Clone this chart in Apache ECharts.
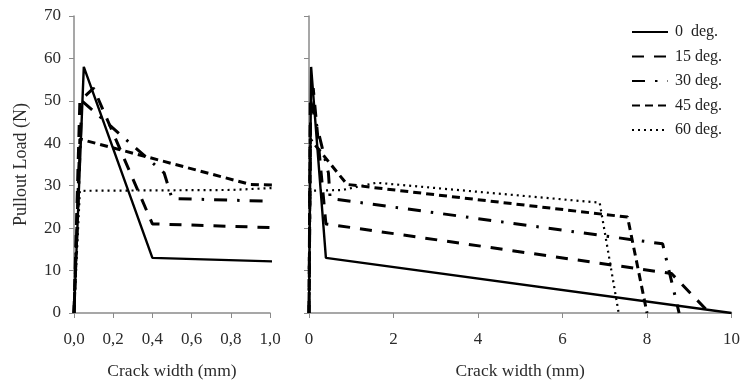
<!DOCTYPE html>
<html>
<head>
<meta charset="utf-8">
<script src="https://cdn.jsdelivr.net/npm/echarts@6/dist/echarts.min.js"></script>
<style>
  html, body { margin: 0; background: #fff; }
  #chart { width: 743px; height: 385px; }
</style>
</head>
<body>
<div id="chart"></div>
<script>
// legend names
const names = ["0  deg.", "15 deg.", "30 deg.", "45 deg.", "60 deg."];

// [crack width (mm), pullout load (N)]
const deg0 = [[0, 0], [0.05, 58], [0.4, 13], [10, 0]];
const deg15 = [[0, 0], [0.03, 50], [0.1, 53], [0.4, 21], [8.58, 9.3], [9.48, 0]];
const deg30 = [[0, 0], [0.04, 50], [0.46, 33], [0.5, 27], [8.37, 16.3], [8.76, 0]];
const deg45 = [[0, 0], [0.03, 41], [0.9, 30.3], [7.54, 22.6], [8.0, 0]];
const deg60 = [[0, 0], [0.03, 28.8], [0.8, 29], [1.6, 30.7], [6.88, 26], [7.33, 0]];

const leftTicks = [0, 0.2, 0.4, 0.6, 0.8, 1.0];
const rightTicks = [0, 2, 4, 6, 8, 10];
const loadTicks = [0, 10, 20, 30, 40, 50, 60, 70];

const font = "Liberation Serif";
const axisColor = "#8a8a8a";
const textColor = "#2b2b2b";

const lineTypes = [
  { type: "solid", width: 2.4 },
  { type: [12, 10], width: 3 },
  { type: [13, 10, 2.5, 10], width: 3 },
  { type: [8, 5], width: 3 },
  { type: [2, 4], width: 2.2 },
];
const allData = [deg0, deg15, deg30, deg45, deg60];

const series = [];
allData.forEach((d, i) => {
  [0, 1].forEach((g) => {
    series.push({
      type: "line",
      name: names[i],
      data: d,
      xAxisIndex: g,
      yAxisIndex: g,
      symbol: "none",
      clip: true,
      lineStyle: { color: "#000", cap: "butt", ...lineTypes[i] },
      itemStyle: { color: "#000" },
    });
  });
});

const xAxisBase = {
  type: "value",
  min: 0,
  splitLine: { show: false },
  axisLine: { lineStyle: { color: axisColor, width: 1.5 } },
  axisTick: { show: true, length: 5, lineStyle: { color: axisColor } },
  axisLabel: { fontFamily: font, fontSize: 17, color: textColor, margin: 18 },
  name: "Crack width (mm)",
  nameLocation: "middle",
  nameGap: 49,
  nameTextStyle: { fontFamily: font, fontSize: 17.5, color: textColor },
};

const yAxisBase = {
  type: "value",
  min: loadTicks[0],
  max: loadTicks[loadTicks.length - 1],
  interval: 10,
  splitLine: { show: false },
  axisLine: { show: true, lineStyle: { color: axisColor, width: 1.5 } },
  axisTick: { show: true, length: 5, lineStyle: { color: axisColor } },
};

const chart = echarts.init(document.getElementById("chart"));
chart.setOption({
  backgroundColor: "#fff",
  animation: false,
  grid: [
    { left: 74, top: 16, width: 196, height: 301 },
    { left: 309, top: 16, width: 424, height: 301 },
  ],
  legend: {
    data: names,
    orient: "vertical",
    left: 626,
    top: 19,
    itemWidth: 36,
    itemHeight: 14,
    itemGap: 8.5,
    itemStyle: { opacity: 0 },
    textStyle: { fontFamily: font, fontSize: 16, color: "#222", padding: [0, 0, 0, 2] },
  },
  xAxis: [
    {
      ...xAxisBase,
      gridIndex: 0,
      max: leftTicks[leftTicks.length - 1],
      interval: 0.2,
      axisLabel: {
        ...xAxisBase.axisLabel,
        formatter: (v) => v.toFixed(1).replace(".", ","),
      },
    },
    {
      ...xAxisBase,
      gridIndex: 1,
      max: rightTicks[rightTicks.length - 1],
      interval: 2,
    },
  ],
  yAxis: [
    {
      ...yAxisBase,
      gridIndex: 0,
      axisLabel: { fontFamily: font, fontSize: 17, color: textColor, margin: 13 },
      name: "Pullout Load (N)",
      nameLocation: "middle",
      nameGap: 44,
      nameTextStyle: { fontFamily: font, fontSize: 18, color: textColor },
    },
    {
      ...yAxisBase,
      gridIndex: 1,
      axisLabel: { show: false },
    },
  ],
  series: series,
});
</script>
</body>
</html>
